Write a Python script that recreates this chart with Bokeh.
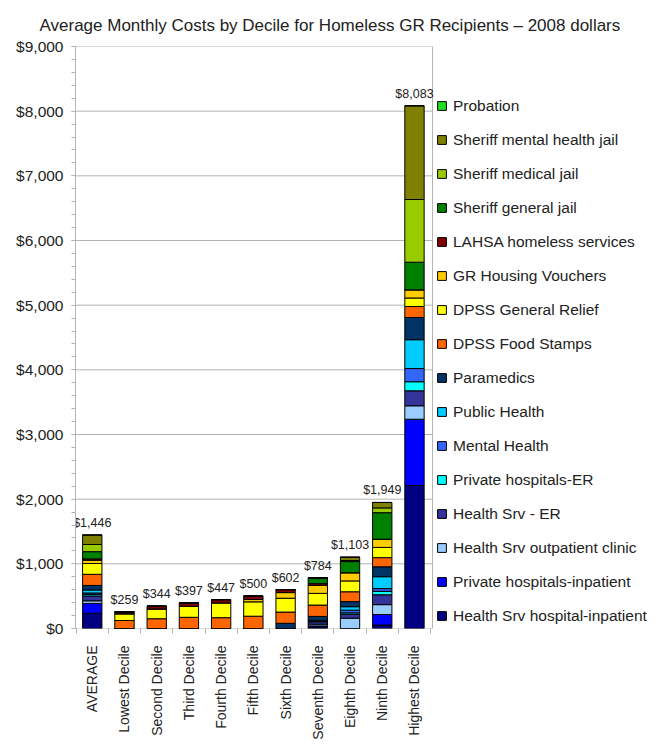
from math import pi
from bokeh.plotting import figure
from bokeh.models import (Range1d, FixedTicker, NumeralTickFormatter, Legend,
                          LegendItem, ColumnDataSource)
from bokeh.core.properties import value
from bokeh.embed import file_html
from bokeh.resources import INLINE

# ---------------- data ----------------
categories = ["AVERAGE", "Lowest Decile", "Second Decile", "Third Decile",
              "Fourth Decile", "Fifth Decile", "Sixth Decile", "Seventh Decile",
              "Eighth Decile", "Ninth Decile", "Highest Decile"]
totals = [1446, 259, 344, 397, 447, 500, 602, 784, 1103, 1949, 8083]

# series, bottom of stack to top
series_names = ["Health Srv hospital-inpatient", "Private hospitals-inpatient",
                "Health Srv outpatient clinic", "Health Srv - ER",
                "Private hospitals-ER", "Mental Health", "Public Health",
                "Paramedics", "DPSS Food Stamps", "DPSS General Relief",
                "GR Housing Vouchers", "LAHSA homeless services",
                "Sheriff general jail", "Sheriff medical jail",
                "Sheriff mental health jail", "Probation"]

hs_inpatient     = [236, 0, 0, 0, 0, 0, 0, 20, 0, 53, 2211]
priv_inpatient   = [152, 0, 0, 0, 0, 0, 0, 20, 0, 163, 1025]
hs_outpatient    = [40, 0, 0, 0, 0, 0, 0, 27, 158, 153, 208]
hs_er            = [76, 0, 0, 0, 0, 0, 0, 40, 63, 153, 232]
priv_er          = [25, 0, 0, 0, 0, 0, 0, 0, 21, 53, 140]
mental_health    = [20, 0, 0, 0, 0, 0, 0, 0, 42, 42, 204]
public_health    = [46, 0, 0, 0, 0, 0, 0, 20, 53, 184, 446]
paramedics       = [71, 0, 0, 0, 0, 0, 80, 60, 79, 153, 343]
food_stamps      = [172, 124, 151, 173, 167, 190, 174, 175, 152, 142, 170]
general_relief   = [167, 103, 151, 172, 229, 222, 214, 181, 168, 158, 132]
housing_vouchers = [51, 0, 0, 0, 0, 36, 87, 123, 126, 126, 126]
lahsa            = [20, 32, 42, 52, 51, 52, 47, 27, 0, 0, 0]
jail_general     = [112, 0, 0, 0, 0, 0, 0, 91, 173, 411, 427]
jail_medical     = [111, 0, 0, 0, 0, 0, 0, 0, 16, 74, 970]
jail_mental      = [147, 0, 0, 0, 0, 0, 0, 0, 52, 84, 1449]
probation        = [0, 0, 0, 0, 0, 0, 0, 0, 0, 0, 0]

series_values = [hs_inpatient, priv_inpatient, hs_outpatient, hs_er, priv_er,
                 mental_health, public_health, paramedics, food_stamps,
                 general_relief, housing_vouchers, lahsa, jail_general,
                 jail_medical, jail_mental, probation]

colors = ["#000080", "#0000ff", "#99ccff", "#333399", "#00ffff", "#3366ff",
          "#00ccff", "#003366", "#ff6600", "#ffff00", "#ffcc00", "#800000",
          "#008000", "#99cc00", "#808000", "#22dd22"]

y_ticks = list(range(0, 9001, 1000))
y_minor = list(range(0, 9001, 200))

# ---------------- build ----------------
xs = list(range(len(categories)))
keys = ["s%d" % i for i in range(len(series_names))]
data = {"x": xs}
for k, v in zip(keys, series_values):
    data[k] = v
source = ColumnDataSource(data)

FONT = "Liberation Sans"
GRID = "#b3b3b3"
n = len(categories)
x_lo, x_hi = -0.52, n - 0.44          # plotting-area extent (category units)

# the frame also spans the legend area on the right; the visible plot box
# is drawn up to x_hi only
p = figure(width=661, height=744, output_backend="svg", toolbar_location=None,
           x_range=Range1d(x_lo, x_lo + 18.0),
           y_range=Range1d(0, 9000),
           min_border_left=75, min_border_right=6,
           min_border_top=46, min_border_bottom=116)
p.outline_line_color = None
p.background_fill_color = "white"

p.title.text = "Average Monthly Costs by Decile for Homeless GR Recipients \u2013 2008 dollars"
p.title.align = "left"
p.title.offset = -36
p.title.standoff = 24
p.title.text_font = FONT
p.title.text_font_size = "17px"
p.title.text_font_style = "normal"
p.title.text_color = "#222222"

# plot box: horizontal grid lines and right border
p.segment(x0=[x_lo] * len(y_ticks), x1=[x_hi] * len(y_ticks),
          y0=y_ticks, y1=y_ticks, line_color=GRID, line_width=1)
p.segment(x0=[x_hi], x1=[x_hi], y0=[y_ticks[0]], y1=[y_ticks[-1]],
          line_color=GRID, line_width=1)

renderers = p.vbar_stack(keys, x="x", width=0.6, source=source,
                         fill_color=colors, line_color="black", line_width=1)

# value labels
lab_src = ColumnDataSource(dict(x=xs, y=totals,
                                t=["$" + f"{v:,}" for v in totals]))
p.text(x="x", y="y", text="t", source=lab_src, text_align="center",
       text_baseline="alphabetic", y_offset=-12, text_font=value(FONT),
       text_font_size="12.5px", text_color="#222222")

# y axis
p.yaxis.ticker = FixedTicker(ticks=y_ticks, minor_ticks=y_minor)
p.yaxis.formatter = NumeralTickFormatter(format="$0,0")
p.yaxis.axis_line_color = GRID
p.yaxis.major_tick_line_color = GRID
p.yaxis.minor_tick_line_color = GRID
p.yaxis.major_tick_in = 0
p.yaxis.major_tick_out = 4
p.yaxis.minor_tick_in = 0
p.yaxis.minor_tick_out = 4
p.yaxis.major_label_standoff = 8
p.yaxis.major_label_text_font = FONT
p.yaxis.major_label_text_font_size = "15.5px"
p.yaxis.major_label_text_color = "#222222"

# x axis
p.xaxis.ticker = FixedTicker(ticks=xs,
                             minor_ticks=[i - 0.5 for i in range(n + 1)])
p.xaxis.major_label_overrides = {i: c for i, c in zip(xs, categories)}
p.xaxis.major_label_orientation = pi / 2
p.xaxis.axis_line_color = None
p.xaxis.major_tick_line_color = None
p.xaxis.major_tick_in = 0
p.xaxis.major_tick_out = 0
p.xaxis.minor_tick_line_color = GRID
p.xaxis.minor_tick_in = 0
p.xaxis.minor_tick_out = 5
p.xaxis.major_label_standoff = 12
p.xaxis.major_label_text_font = FONT
p.xaxis.major_label_text_font_size = "14px"
p.xaxis.major_label_text_color = "#222222"

p.xgrid.visible = False
p.ygrid.visible = False

# legend (top of stack first)
items = [LegendItem(label=nm, renderers=[r])
         for nm, r in reversed(list(zip(series_names, renderers)))]
legend = Legend(items=items, location=(361, 2), padding=0, margin=0,
                spacing=13, label_height=21, glyph_height=11, glyph_width=11,
                label_standoff=6, label_text_font=FONT,
                label_text_font_size="15.5px", label_text_color="#222222",
                border_line_color=None, background_fill_alpha=0)
p.add_layout(legend, "center")

open("out.html", "w").write(file_html(p, INLINE))
